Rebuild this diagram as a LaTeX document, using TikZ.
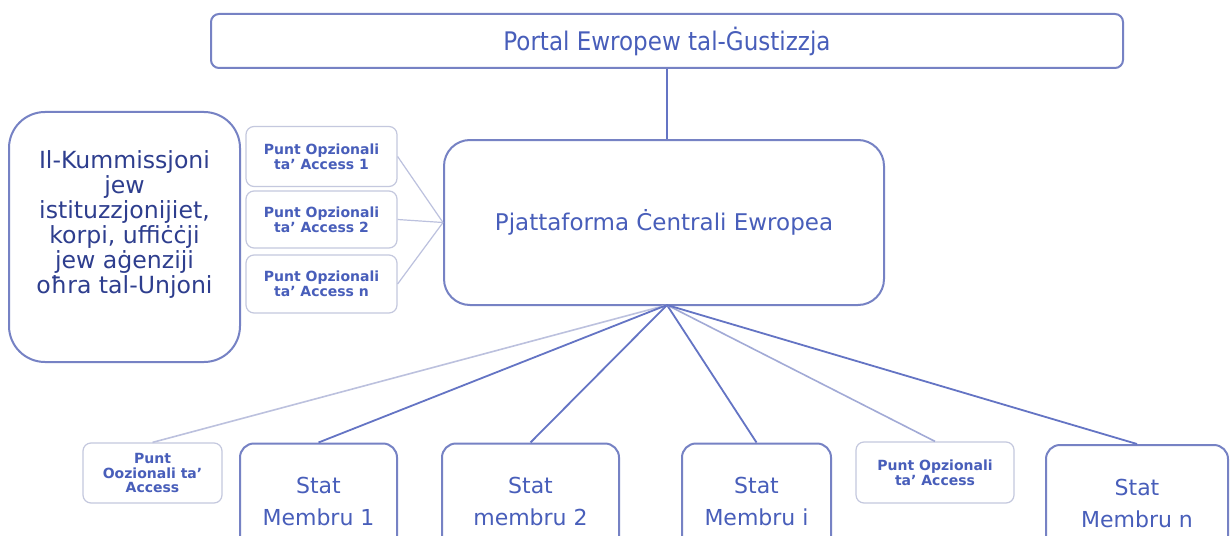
\documentclass[tikz,border=0pt]{standalone}
\usepackage{fontspec}
\setmainfont{DejaVu Sans}
\newfontfamily\condfont{DejaVu Sans Condensed}
\definecolor{bordbleu}{RGB}{118,130,196}
\definecolor{bordpale}{RGB}{196,200,222}
\definecolor{textebleu}{RGB}{72,94,186}
\definecolor{textefonce}{RGB}{46,62,142}
\definecolor{lignebleu}{RGB}{100,116,196}
\definecolor{lignepale}{RGB}{188,193,222}

\begin{document}
\begin{tikzpicture}[x=0.5pt, y=-0.5pt]
\tikzset{boite/.style={draw=bordbleu, line width=1pt, rounded corners=7pt, fill=white, text=textebleu, align=center, inner sep=0pt},
  petiteboite/.style={draw=bordpale, line width=0.6pt, rounded corners=4pt, fill=white, text=textebleu, align=center, inner sep=0pt, font=\bfseries\fontsize{7}{7.4}\selectfont},
  statnoeud/.style={boite, minimum height=58pt, font=\fontsize{11}{16}\selectfont}}
\useasboundingbox (0,0) rectangle (1230,535);
\clip (0,0) rectangle (1230,535);
\fill[white] (0,0) rectangle (1230,535);
% en haut
\node[boite, rounded corners=4pt, minimum width=456pt, minimum height=27pt, font=\condfont\fontsize{12.8}{14}\selectfont] (portal) at (667,41) {Portal Ewropew tal-Ġustizzja};
\node[boite, rounded corners=13pt, minimum width=220pt, minimum height=82.5pt, font=\fontsize{11.5}{14}\selectfont] (centrali) at (664,222.5) {Pjattaforma Ċentrali Ewropea};
\node[boite, rounded corners=18pt, minimum width=115.5pt, minimum height=125pt, text=textefonce, font=\fontsize{11.8}{12.5}\selectfont] (kumm) at (124.5,237) {Il-Kummissjoni\\jew\\istituzzjonijiet,\\korpi, uffiċċji\\jew aġenziji\\oħra tal-Unjoni\\[2.5pt]\mbox{}};
% punti ta' access
\node[petiteboite, minimum width=75.5pt, minimum height=30pt] (pa1) at (321.5,156.5) {Punt Opzionali\\ta’ Access 1};
\node[petiteboite, minimum width=75.5pt, minimum height=28.5pt] (pa2) at (321.5,219.5) {Punt Opzionali\\ta’ Access 2};
\node[petiteboite, minimum width=75.5pt, minimum height=29pt] (pan) at (321.5,284) {Punt Opzionali\\ta’ Access n};
% isfel
\node[petiteboite, minimum width=69.5pt, minimum height=30pt] (pax) at (152.5,473) {Punt\\Oozionali ta’\\Access};
\node[statnoeud, minimum width=78.5pt] (stat1) at (318.5,501.5) {Stat\\Membru 1};
\node[statnoeud, minimum width=88.5pt] (stat2) at (530.5,501.5) {Stat\\membru 2};
\node[statnoeud, minimum width=74.5pt] (stati) at (756.5,501.5) {Stat\\Membru i};
\node[petiteboite, minimum width=79pt, minimum height=30.5pt] (pay) at (935,472.5) {Punt Opzionali\\ta’ Access};
\node[statnoeud, minimum width=91pt] (statn) at (1137,503) {Stat\\Membru n};
\coordinate (fuq) at (667,305);
\draw[lignebleu, line width=0.9pt] (portal.south) -- (portal.south |- centrali.north);
\draw[lignepale, line width=0.6pt] (pa1.east) -- (centrali.west);
\draw[lignepale, line width=0.6pt] (pa2.east) -- (centrali.west);
\draw[lignepale, line width=0.6pt] (pan.east) -- (centrali.west);
\draw[lignepale, line width=0.8pt] (fuq) -- (pax.north);
\draw[lignebleu, line width=0.9pt] (fuq) -- (stat1.north);
\draw[lignebleu, line width=0.9pt] (fuq) -- (stat2.north);
\draw[lignebleu, line width=0.9pt] (fuq) -- (stati.north);
\draw[lignepale!70!lignebleu, line width=0.8pt] (fuq) -- (pay.north);
\draw[lignebleu, line width=0.9pt] (fuq) -- (statn.north);
\end{tikzpicture}
\end{document}
